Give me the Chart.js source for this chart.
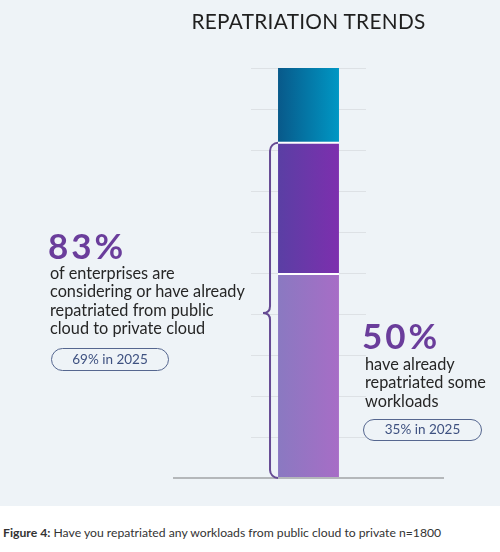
<!DOCTYPE html>
<html>
<head>
<meta charset="utf-8">
<script src="https://cdn.jsdelivr.net/npm/chart.js@4"></script>
<style>
  body { margin: 0; width: 500px; height: 552px; background: #fff; font-family: Lato, sans-serif; overflow: hidden; }
  #panel { position: absolute; left: 0; top: 0; width: 500px; height: 506px; background: #eef3f7; }
  #panel canvas { position: absolute; left: 0; top: 0; }
  .txt { position: absolute; color: #262626; white-space: nowrap; }
  #title { left: 0; width: 617px; top: 8px; text-align: center; font-size: 20.8px; letter-spacing: 0.3px; color: #1f1f1f; }
  .big { font-size: 35px; font-weight: bold; color: #6a3d9b; line-height: 1; letter-spacing: 3px; }
  .body { font-size: 16.3px; line-height: 18.3px; }
  .pill { position: absolute; border: 1.5px solid #55668f; border-radius: 13px; color: #3e5180; font-size: 13.5px; text-align: center; box-sizing: border-box; }
  #caption { left: 3px; top: 525px; font-size: 12.2px; color: #333; }
</style>
</head>
<body>
<div id="panel">
  <canvas id="chart" width="500" height="506"></canvas>
  <div class="txt" id="title">REPATRIATION TRENDS</div>

  <div class="txt big" style="left:48px; top:228px;">83%</div>
  <div class="txt body" style="left:50px; top:264px;">of enterprises are<br>considering or have already<br>repatriated from public<br>cloud to private cloud</div>
  <div class="pill" style="left:51px; top:348px; width:118px; height:23px; line-height:20px;">69% in 2025</div>

  <div class="txt big" style="left:362px; top:318px;">50%</div>
  <div class="txt body" style="left:365px; top:355px;">have already<br>repatriated some<br>workloads</div>
  <div class="pill" style="left:363px; top:419px; width:119px; height:22px; line-height:19px;">35% in 2025</div>
</div>
<div class="txt" id="caption"><b>Figure 4:</b> Have you repatriated any workloads from public cloud to private n=1800</div>

<script>
// 데이터
const categories = ['Repatriation'];
const repatriated = [50];     // 이미 이전함
const considering = [32];     // 고려 중
const notPlanning = [18];     // 나머지
const yTicks = [0, 10, 20, 30, 40, 50, 60, 70, 80, 90, 100];

const barPct = 0.53;

// 막대 폭 기준 가로 그라데이션
function barGradient(from, to) {
  return function(context) {
    const chart = context.chart;
    if (!chart.chartArea || !chart.scales.x) return from;
    const xs = chart.scales.x;
    const c = xs.getPixelForValue(0);
    const half = xs.width * barPct / 2;
    const g = chart.ctx.createLinearGradient(c - half, 0, c + half, 0);
    g.addColorStop(0, from);
    g.addColorStop(1, to);
    return g;
  };
}

// 중괄호와 바닥선
const bracePlugin = {
  id: 'brace',
  afterDatasetsDraw(chart) {
    const ctx = chart.ctx;
    const ys = chart.scales.y;
    const xs = chart.scales.x;
    const left = xs.getPixelForValue(0) - xs.width * barPct / 2;
    const top = ys.getPixelForValue(repatriated[0] + considering[0]);
    const bottom = ys.getPixelForValue(0);
    const mid = (top + bottom) / 2 + 3;
    const x = left - 8, r = 8, tipX = left - 15;

    ctx.save();
    // 바닥선
    ctx.strokeStyle = '#b4b7ba';
    ctx.lineWidth = 2;
    ctx.beginPath();
    ctx.moveTo(173, bottom);
    ctx.lineTo(444, bottom);
    ctx.stroke();

    ctx.strokeStyle = '#654a93';
    ctx.lineWidth = 2;
    ctx.beginPath();
    ctx.moveTo(left, top + 1);
    ctx.arcTo(x, top + 1, x, top + 1 + r, r);
    ctx.lineTo(x, mid - 7);
    ctx.quadraticCurveTo(x, mid, tipX, mid);
    ctx.quadraticCurveTo(x, mid, x, mid + 7);
    ctx.lineTo(x, bottom - r);
    ctx.arcTo(x, bottom, left, bottom, r);
    ctx.stroke();
    ctx.restore();
  }
};

new Chart(document.getElementById('chart'), {
  type: 'bar',
  data: {
    labels: categories,
    datasets: [
      { data: repatriated, backgroundColor: barGradient('#8a79c1', '#a76dc6'),
        borderColor: '#ffffff', borderWidth: { top: 2, left: 0, right: 0, bottom: 0 }, borderSkipped: false },
      { data: considering, backgroundColor: barGradient('#5a3fa4', '#7d2fae'),
        borderColor: '#ffffff', borderWidth: { top: 2, left: 0, right: 0, bottom: 0 }, borderSkipped: false },
      { data: notPlanning, backgroundColor: barGradient('#08598a', '#0097c4'), borderWidth: 0 }
    ]
  },
  options: {
    responsive: false,
    animation: false,
    layout: { padding: { left: 251, right: 134, top: 68, bottom: 20 } },
    plugins: { legend: { display: false }, tooltip: { enabled: false } },
    datasets: { bar: { barPercentage: barPct, categoryPercentage: 1 } },
    scales: {
      x: { stacked: true, grid: { display: false }, border: { display: false }, ticks: { display: false } },
      y: {
        stacked: true, min: 0, max: 100,
        afterBuildTicks: axis => { axis.ticks = yTicks.map(v => ({ value: v })); },
        grid: { color: 'rgba(0,0,0,0.07)', drawTicks: false },
        border: { display: false },
        ticks: { display: false }
      }
    }
  },
  plugins: [bracePlugin]
});
</script>
</body>
</html>
